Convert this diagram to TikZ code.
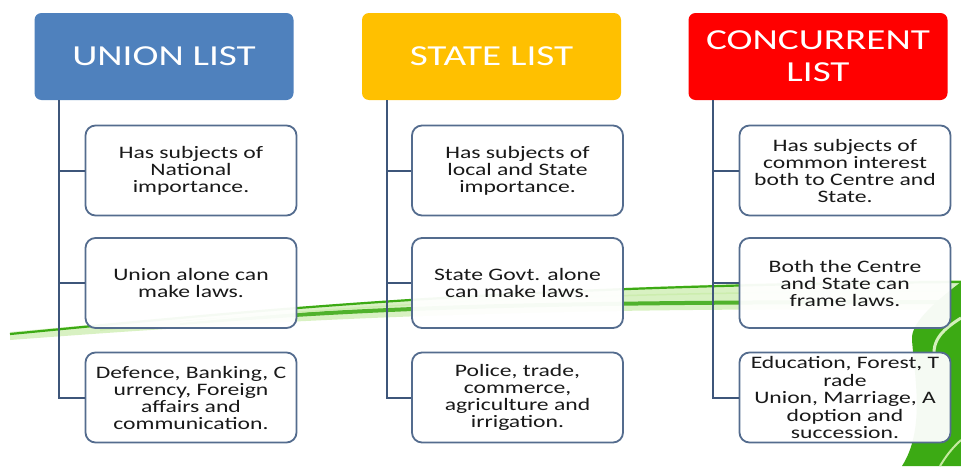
\documentclass[tikz,border=0pt]{standalone}
\usepackage{fontspec}
\setmainfont{Carlito}[FakeStretch=1.35]
\definecolor{ublue}{RGB}{79,129,189}
\definecolor{syellow}{RGB}{255,192,0}
\definecolor{cred}{RGB}{255,0,0}
\definecolor{bordc}{RGB}{84,108,142}
\definecolor{linec}{RGB}{62,86,122}
\definecolor{txtc}{RGB}{25,25,25}
\definecolor{gdark}{RGB}{60,170,20}
\definecolor{glight}{RGB}{170,225,120}
\tikzset{
  header/.style={rounded corners=7pt, minimum width=259pt, minimum height=87pt, inner sep=0pt,
    text=white, align=center, font=\fontsize{29}{32}\selectfont},
  itembox/.style={draw=bordc, line width=1.8pt, fill=white, fill opacity=0.95, text opacity=1,
    rounded corners=10pt, minimum width=211pt, minimum height=90pt, inner sep=0pt,
    align=center, text=txtc, font=\fontsize{17.5}{17}\selectfont},
  trunk/.style={draw=linec, line width=2pt},
}
\begin{document}
\begin{tikzpicture}[x=1pt,y=-1pt]
\useasboundingbox (0,0) rectangle (961,466);
\fill[white] (0,0) rectangle (961,466);
% green swoosh in the background
\fill[glight, opacity=0.45] (10,332) .. controls (250,311) and (500,284) .. (961,280)
  -- (961,310) .. controls (500,306) and (250,322) .. (10,340) -- cycle;
\draw[gdark, line width=2.2pt] (10,334) .. controls (250,311) and (500,285) .. (961,282);
\draw[gdark!90, line width=4pt] (180,323) .. controls (400,306) and (550,302) .. (961,302);
\draw[glight!60, line width=1.5pt] (100,330) .. controls (350,305) and (550,292) .. (961,291);
% sweep in the lower right corner
\fill[gdark] (961,282) .. controls (940,298) and (910,322) .. (912,340)
  .. controls (915,380) and (925,430) .. (902,466) -- (961,466) -- cycle;
\draw[glight!50, line width=3pt] (961,318) .. controls (945,328) and (930,340) .. (935,360);
\draw[glight!70, line width=2pt] (961,440) .. controls (950,450) and (945,458) .. (940,466);
% headers
\node[header, fill=ublue] (uh) at (164,56.5) {UNION LIST};
\node[header, fill=syellow] (sh) at (491.5,56.5) {STATE LIST};
\node[header, fill=cred] (ch) at (818,56.5) {CONCURRENT\\LIST};
% union column
\node[itembox] (u1) at (191,170.5) {Has subjects of\\National\\importance.};
\node[itembox] (u2) at (191,283) {Union alone can\\make laws.};
\node[itembox] (u3) at (191,397.5) {Defence, Banking, C\\urrency, Foreign\\affairs and\\communication.};
% state column
\node[itembox] (s1) at (517.5,170.5) {Has subjects of\\local and State\\importance.};
\node[itembox] (s2) at (517.5,283) {State Govt. alone\\can make laws.};
\node[itembox] (s3) at (517.5,397.5) {Police, trade,\\commerce,\\agriculture and\\irrigation.};
% concurrent column
\node[itembox] (c1) at (845,170.5) {Has subjects of\\common interest\\both to Centre and\\State.};
\node[itembox] (c2) at (845,283) {Both the Centre\\and State can\\frame laws.};
\node[itembox, font=\fontsize{17.5}{17.5}\selectfont] (c3) at (845,397.5) {Education, Forest, T\\rade\\Union, Marriage, A\\doption and\\succession.};
% trunks
\coordinate (ut) at ([xshift=25pt]uh.south west);
\coordinate (st) at ([xshift=25pt]sh.south west);
\coordinate (ct) at ([xshift=25pt]ch.south west);
\draw[trunk] (ut) |- (u3.west);
\draw[trunk] (ut |- u1.west) -- (u1.west);
\draw[trunk] (ut |- u2.west) -- (u2.west);
\draw[trunk] (st) |- (s3.west);
\draw[trunk] (st |- s1.west) -- (s1.west);
\draw[trunk] (st |- s2.west) -- (s2.west);
\draw[trunk] (ct) |- (c3.west);
\draw[trunk] (ct |- c1.west) -- (c1.west);
\draw[trunk] (ct |- c2.west) -- (c2.west);
\end{tikzpicture}
\end{document}
